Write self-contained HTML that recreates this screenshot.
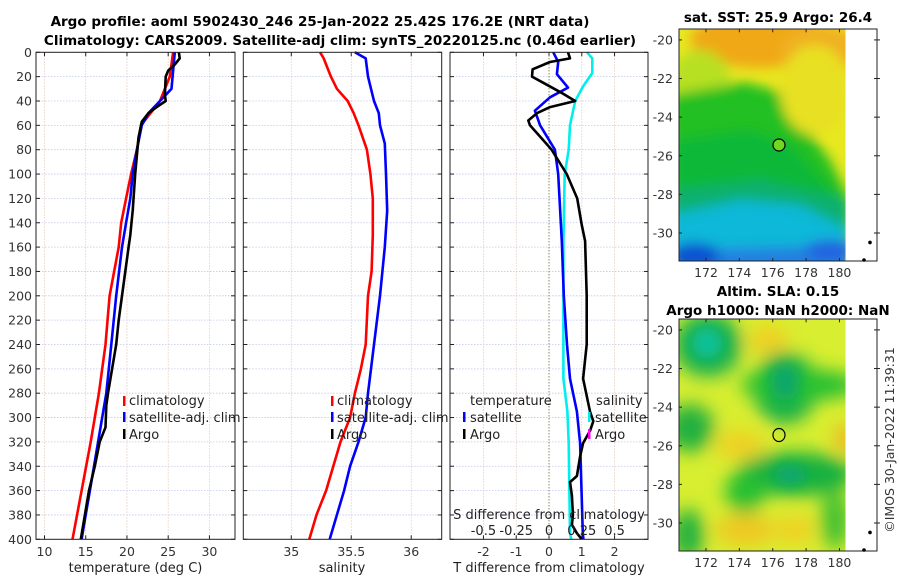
<!DOCTYPE html>
<html><head><meta charset="utf-8">
<style>
html,body{margin:0;padding:0;background:#fff;}
svg{display:block;font-family:"DejaVu Sans","Liberation Sans",sans-serif;}
</style></head>
<body>
<svg id="chart" width="900" height="580" viewBox="0 0 900 580" xmlns="http://www.w3.org/2000/svg">
<defs>
<filter id="blur6" x="-20%" y="-20%" width="140%" height="140%"><feGaussianBlur stdDeviation="6"/></filter>
<filter id="blur10" x="-30%" y="-30%" width="160%" height="160%"><feGaussianBlur stdDeviation="9"/></filter>
<clipPath id="clipSst"><rect x="679" y="29" width="166.5" height="232"/></clipPath>
<clipPath id="clipSla"><rect x="679" y="319" width="166.5" height="232"/></clipPath>
</defs>
<g font-weight="bold" font-size="13.5" text-anchor="middle" fill="#000">
<text x="320" y="26">Argo profile: aoml 5902430_246 25-Jan-2022 25.42S 176.2E (NRT data)</text>
<text x="340" y="45">Climatology: CARS2009. Satellite-adj clim: synTS_20220125.nc (0.46d earlier)</text>
</g>
<g id="panels"></g>

<!-- SST map -->
<g>
<text x="778" y="22" text-anchor="middle" font-weight="bold" font-size="13.5">sat. SST: 25.9 Argo: 26.4</text>
<g clip-path="url(#clipSst)">
<rect x="679" y="29" width="167" height="232" fill="#e8e820"/>
<g filter="url(#blur6)">
<ellipse cx="760" cy="40" rx="70" ry="28" fill="#f0a818"/>
<ellipse cx="820" cy="50" rx="40" ry="25" fill="#f0b020"/>
<ellipse cx="700" cy="80" rx="30" ry="30" fill="#b8e020"/>
<polygon points="670,95 745,82 790,95 800,120 830,160 850,200 850,300 670,300" fill="#20c020"/>
<polygon points="670,140 750,130 790,145 850,210 850,300 670,300" fill="#10b838"/>
<polygon points="670,190 760,180 850,200 850,300 670,300" fill="#10b070"/>
<polygon points="670,215 740,200 800,205 850,230 850,300 670,300" fill="#10b8d8"/>
<polygon points="670,250 850,245 850,300 670,300" fill="#2080e0"/>
<ellipse cx="695" cy="255" rx="25" ry="12" fill="#1050d0"/>
<ellipse cx="830" cy="250" rx="25" ry="10" fill="#2060e0"/>
<ellipse cx="815" cy="90" rx="35" ry="45" fill="#e8e020"/>
</g>
</g>
<rect x="845.5" y="29" width="31.5" height="232" fill="#fff"/>
<circle cx="779" cy="145" r="6" fill="#70d820" stroke="#000" stroke-width="1.2"/>
<rect x="679" y="29" width="198" height="232" fill="none" stroke="#222" stroke-width="1"/>
<g id="sstTicks" font-size="12.5" fill="#333"></g>
</g>

<!-- SLA map -->
<g>
<text x="778" y="296" text-anchor="middle" font-weight="bold" font-size="13.5">Altim. SLA: 0.15</text>
<text x="778" y="315" text-anchor="middle" font-weight="bold" font-size="13.5">Argo h1000: NaN h2000: NaN</text>
<g clip-path="url(#clipSla)">
<rect x="679" y="319" width="167" height="232" fill="#d8ee30"/>
<g filter="url(#blur10)">
<ellipse cx="768" cy="340" rx="20" ry="15" fill="#f0d020"/>
<ellipse cx="740" cy="445" rx="25" ry="14" fill="#f0d020"/>
<ellipse cx="745" cy="530" rx="30" ry="16" fill="#f0c820"/>
<ellipse cx="795" cy="530" rx="20" ry="14" fill="#f0d020"/>
<ellipse cx="845" cy="438" rx="10" ry="14" fill="#f0b020"/>
<ellipse cx="708" cy="345" rx="34" ry="32" fill="#18b050"/>
<ellipse cx="785" cy="388" rx="32" ry="36" fill="#18b048"/>
<ellipse cx="800" cy="385" rx="60" ry="16" fill="#28c030"/>
<ellipse cx="690" cy="428" rx="24" ry="24" fill="#20b040"/>
<ellipse cx="795" cy="474" rx="60" ry="22" fill="#18b040"/>
<ellipse cx="745" cy="492" rx="20" ry="22" fill="#28c030"/>
<ellipse cx="688" cy="535" rx="16" ry="26" fill="#20b040"/>
<ellipse cx="835" cy="520" rx="14" ry="30" fill="#40c030"/>
</g>
<g filter="url(#blur6)">
<ellipse cx="707" cy="343" rx="15" ry="15" fill="#10c098"/>
<ellipse cx="785" cy="382" rx="15" ry="18" fill="#10a868"/>
<ellipse cx="790" cy="475" rx="16" ry="10" fill="#10a870"/>
</g>
</g>
<rect x="845.5" y="319" width="31.5" height="232" fill="#fff"/>
<ellipse cx="779" cy="435" rx="6" ry="6.5" fill="none" stroke="#000" stroke-width="1.2"/>
<rect x="679" y="319" width="198" height="232" fill="none" stroke="#222" stroke-width="1"/>
<g id="slaTicks" font-size="12.5" fill="#333"></g>
</g>
<text transform="translate(894,440) rotate(-90)" text-anchor="middle" font-size="12.5" fill="#333">©IMOS 30-Jan-2022 11:39:31</text>
</svg>
<script>
// ---- data ----
const depthTicks = [0,20,40,60,80,100,120,140,160,180,200,220,240,260,280,300,320,340,360,380,400];
const tempTicks = [10,15,20,25,30];
const salTicks = [35,35.5,36];
const salTickLabels = ["35","35.5","36"];
const tdiffTicks = [-2,-1,0,1,2];
const sdiffTicks = [-0.5,-0.25,0,0.25,0.5];
const sdiffTickLabels = ["-0.5","-0.25","0","0.25","0.5"];

const climTDepth = [0,20,40,60,80,100,120,140,160,200,240,280,320,360,400];
const climT = [25.6,25.2,24.0,21.7,21.2,20.5,19.9,19.3,19.0,17.9,17.4,16.6,15.6,14.5,13.4];
const satTDepth = [0,30,40,50,60,80,100,120,140,160,200,240,280,300,320,340,360,380,400];
const satT = [25.8,25.4,24.0,22.6,21.8,21.2,20.7,20.4,19.9,19.4,18.7,18.1,17.5,17.0,16.5,16.0,15.5,15.0,14.5];
const argoTDepth = [0,5,10,15,20,35,40,45,50,57,70,100,130,150,160,180,200,220,240,260,280,290,308,320,340,360,380,400];
const argoT = [26.3,26.4,25.8,25.0,24.7,24.6,24.7,23.6,22.6,21.8,21.4,21.0,20.7,20.4,20.2,19.8,19.4,19.0,18.7,18.2,17.7,17.5,17.4,16.7,16.1,15.4,14.9,14.4];

const climSDepth = [0,5,20,30,40,50,60,80,100,120,150,180,200,240,260,280,300,320,340,360,380,400];
const climS = [35.24,35.27,35.33,35.38,35.47,35.52,35.56,35.63,35.66,35.68,35.68,35.67,35.64,35.62,35.58,35.53,35.49,35.41,35.35,35.29,35.21,35.15];
const satSDepth = [0,5,20,40,50,60,75,100,130,160,200,240,280,300,320,340,360,380,400];
const satS = [35.53,35.62,35.64,35.69,35.73,35.74,35.78,35.79,35.80,35.78,35.74,35.69,35.64,35.62,35.56,35.49,35.44,35.38,35.32];

const argoTdDepth = [0,5,8,14,20,25,34,40,45,50,56,60,72,80,100,120,142,155,200,240,268,295,303,311,321,332,348,353,364,380,388,395,400];
const argoTd = [0.58,0.64,0.03,-0.5,-0.52,-0.18,0.43,0.8,0.03,-0.37,-0.63,-0.58,-0.18,0.08,0.54,0.86,1.0,1.1,1.15,1.15,1.04,1.25,1.35,1.25,1.04,0.95,0.85,0.64,0.7,0.73,0.7,0.85,1.0];
const satTdDepth = [0,8,18,29,37,48,60,80,100,155,200,240,268,295,321,395,400];
const satTd = [0.13,0.28,0.24,0.58,0.03,-0.43,-0.27,0.18,0.28,0.39,0.45,0.55,0.64,0.85,0.95,1.03,1.05];
const satSdDepth = [0,5,17,28,40,60,80,100,155,268,295,321,395,400];
const satSd = [0.29,0.33,0.33,0.26,0.2,0.16,0.15,0.12,0.11,0.11,0.14,0.15,0.16,0.17];

const lonTicks = [172,174,176,178,180];
const latTicks = [-20,-22,-24,-26,-28,-30];

// ---- helpers ----
const NS = "http://www.w3.org/2000/svg";
const root = document.getElementById('panels');
function mk(tag, attrs, parent){const e=document.createElementNS(NS,tag);for(const k in attrs)e.setAttribute(k,attrs[k]);(parent||root).appendChild(e);return e;}
const Y0=52.3, Y1=539.3;
const yScale = d => Y0 + d/400*(Y1-Y0);
const panels = {
  t:{x0:36,x1:235,v0:8.97,v1:33.1},
  s:{x0:243.3,x1:441.7,v0:34.6,v1:36.254},
  d:{x0:450,x1:648,v0:-3.02,v1:3.02}
};
function xs(p){const P=panels[p];return v=>P.x0+(v-P.v0)/(P.v1-P.v0)*(P.x1-P.x0);}
const xT=xs('t'), xS=xs('s'), xD=xs('d');
const xSd = v => xD(v*4);

function panelFrame(p,name,xt,xticks,xlabels,showY){
  const P=panels[p];
  const g=mk('g',{});
  
  
  xticks.forEach(v=>{const l=mk('line',{x1:xt(v),x2:xt(v),y1:Y0,y2:Y1,stroke:'#e8c8b8','stroke-width':0.8,'stroke-dasharray':'1.5,1.5'},g);});
  depthTicks.forEach(d=>{const y=yScale(d);
    const l=mk('line',{x1:P.x0,x2:P.x1,y1:y,y2:y,stroke:'#c0c8ec','stroke-width':0.8,'stroke-dasharray':'1.5,1.5'},g);
    mk('line',{x1:P.x0,x2:P.x0+4,y1:y,y2:y,stroke:'#222'},g);
    mk('line',{x1:P.x1-4,x2:P.x1,y1:y,y2:y,stroke:'#222'},g);
    if(showY){const t=mk('text',{x:P.x0-4,y:y+4.5,'text-anchor':'end','font-size':'12.5',fill:'#333'},g);t.textContent=d;}
  });
  xticks.forEach((v,i)=>{const x=xt(v);
    mk('line',{x1:x,x2:x,y1:Y1,y2:Y1-4,stroke:'#222'},g);
    mk('line',{x1:x,x2:x,y1:Y0,y2:Y0+4,stroke:'#222'},g);
    const t=mk('text',{x:x,y:556,'text-anchor':'middle','font-size':'12.5',fill:'#333'},g);t.textContent=xlabels[i];});
  return g;
}
function line(g,xf,vals,depths,color,name){
  const pts=vals.map((v,i)=>xf(v).toFixed(1)+','+yScale(depths[i]).toFixed(1)).join(' ');
  const e=mk('polyline',{points:pts,fill:'none',stroke:color,'stroke-width':2.6,'stroke-linejoin':'round'},g);
  
  
}
function txt(g,x,y,s,name,anchor){const t=mk('text',{x:x,y:y,'font-size':'13',fill:'#222','text-anchor':anchor||'start'},g);t.textContent=s;return t;}
function mark(g,x,y,c,name){const r=mk('rect',{x:x,y:y-10,width:2.5,height:10,fill:c},g);}
function box(g,p){const P=panels[p];mk('rect',{x:P.x0,y:Y0,width:P.x1-P.x0,height:Y1-Y0,fill:'none',stroke:'#222','stroke-width':1},g);}

// panel 1: temperature
const g1=panelFrame('t','temperature-panel',xT,tempTicks,tempTicks.map(String),true);
line(g1,xT,climT,climTDepth,'#ff0000','climatology-temperature-line');
line(g1,xT,satT,satTDepth,'#0000ff','satellite-temperature-line');
line(g1,xT,argoT,argoTDepth,'#000000','argo-temperature-line');
mark(g1,123,406,'#ff0000','legend-climatology-marker');txt(g1,129,405,'climatology','legend-climatology');
mark(g1,123,422,'#0000ff','legend-satellite-marker');txt(g1,129,422,'satellite-adj. clim','legend-satellite');
mark(g1,123,439,'#000','legend-argo-marker');txt(g1,129,439,'Argo','legend-argo');
box(g1,'t');
txt(g1,135.5,572,'temperature (deg C)','x-axis-title-temperature','middle');

// panel 2: salinity
const g2=panelFrame('s','salinity-panel',xS,salTicks,salTickLabels,false);
line(g2,xS,climS,climSDepth,'#ff0000','climatology-salinity-line');
line(g2,xS,satS,satSDepth,'#0000ff','satellite-salinity-line');
mark(g2,331,406,'#ff0000','legend-climatology-marker-s');txt(g2,337,405,'climatology','legend-climatology-s');
mark(g2,331,422,'#0000ff','legend-satellite-marker-s');txt(g2,337,422,'satellite-adj. clim','legend-satellite-s');
mark(g2,331,439,'#000','legend-argo-marker-s');txt(g2,337,439,'Argo','legend-argo-s');
box(g2,'s');
txt(g2,342,572,'salinity','x-axis-title-salinity','middle');

// panel 3: differences
const g3=panelFrame('d','difference-panel',xD,tdiffTicks,tdiffTicks.map(String),false);
const zl=mk('line',{x1:xD(0),x2:xD(0),y1:Y0,y2:Y1,stroke:'#556b2f','stroke-width':1,'stroke-dasharray':'1,2'},g3);


line(g3,xSd,satSd,satSdDepth,'#00eeee','satellite-salinity-diff-line');
line(g3,xD,satTd,satTdDepth,'#0000ff','satellite-temperature-diff-line');
line(g3,xD,argoTd,argoTdDepth,'#000000','argo-temperature-diff-line');
txt(g3,470,405,'temperature','legend-temperature-header');
mark(g3,463,422,'#0000ff','legend-t-satellite-marker');txt(g3,470,422,'satellite','legend-t-satellite');
mark(g3,463,439,'#000','legend-t-argo-marker');txt(g3,470,439,'Argo','legend-t-argo');
txt(g3,596,405,'salinity','legend-salinity-header');
mark(g3,588,422,'#00eeee','legend-s-satellite-marker');txt(g3,595,422,'satellite','legend-s-satellite');
mark(g3,588,439,'#ff00ff','legend-s-argo-marker');txt(g3,595,439,'Argo','legend-s-argo');
txt(g3,549,519,'S difference from climatology','s-axis-title','middle');
sdiffTicks.forEach((v,i)=>{const t=txt(g3,xSd(v),535,sdiffTickLabels[i],'s-tick-label','middle');});
box(g3,'d');
txt(g3,549,572,'T difference from climatology','x-axis-title-tdiff','middle');

// map ticks
function mapTicks(id,top,bot,latTop,latBot){
  const g=document.getElementById(id);
  const xl=v=>679.3+(v-170.4)/(182.25-170.4)*(877-679.3);
  const yl=v=>top+(v-latTop)/(latBot-latTop)*(bot-top);
  lonTicks.forEach(v=>{const x=xl(v);
    mk('line',{x1:x,x2:x,y1:bot,y2:bot-3,stroke:'#222'},g);mk('line',{x1:x,x2:x,y1:top,y2:top+3,stroke:'#222'},g);
    const t=mk('text',{x:x,y:bot+16,'text-anchor':'middle'},g);t.textContent=v;});
  latTicks.forEach(v=>{const y=yl(v);
    mk('line',{x1:679,x2:682,y1:y,y2:y,stroke:'#222'},g);mk('line',{x1:874,x2:880,y1:y,y2:y,stroke:'#222'},g);
    const t=mk('text',{x:673,y:y+4.5,'text-anchor':'end'},g);t.textContent=v;});
  mk('circle',{cx:870,cy:top+(bot-top)*0.92,r:1.8,fill:'#000'},g);
  mk('circle',{cx:864,cy:bot-1,r:1.8,fill:'#000'},g);
}
mapTicks('sstTicks',29.3,261,-19.45,-31.45);
mapTicks('slaTicks',319.3,551,-19.45,-31.45);
</script>
</body></html>
